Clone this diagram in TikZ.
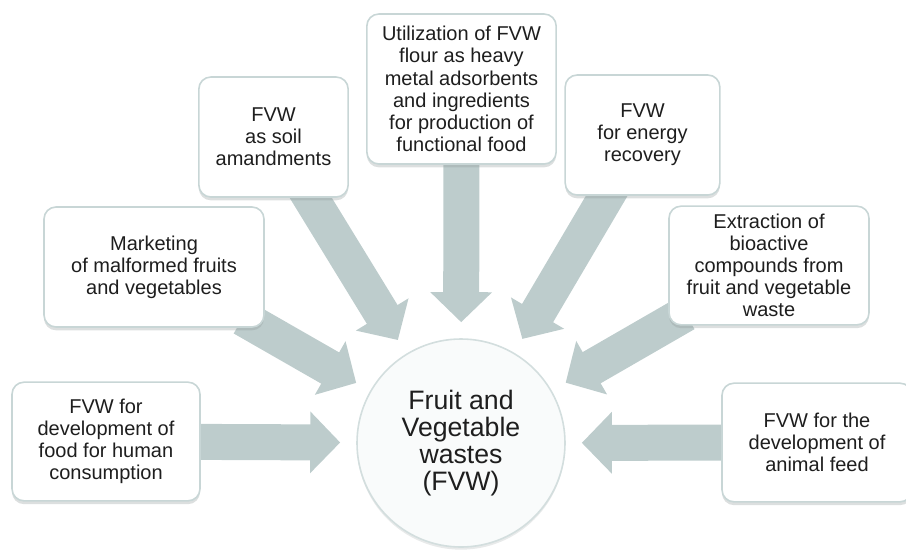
\documentclass[tikz,border=0pt]{standalone}
\usepackage{fontspec}
\setmainfont{Liberation Sans}
\usepackage{tikz}
\usetikzlibrary{arrows.meta}
\usetikzlibrary{shadows}
\usetikzlibrary{backgrounds}

\definecolor{boxedge}{RGB}{200,214,214}
\definecolor{arrowfill}{RGB}{189,204,204}
\definecolor{wastefill}{RGB}{249,251,251}
\definecolor{textgray}{RGB}{30,30,30}

\begin{document}
\begin{tikzpicture}[x=0.75pt,y=-0.75pt,
    usebox/.style={draw=boxedge,line width=1.2pt,fill=white,rounded corners=9pt,align=center,inner sep=0pt,text=textgray,
        font=\fontsize{15}{16.6}\selectfont,drop shadow={shadow xshift=0pt,shadow yshift=-2.5pt,opacity=0.3,fill=boxedge!70!black}},
    wastes/.style={circle,draw=boxedge!80,line width=1.2pt,fill=wastefill,minimum size=156pt,align=center,inner sep=0pt,text=textgray,
        font=\fontsize{20}{20.3}\selectfont,drop shadow={shadow xshift=0pt,shadow yshift=-2pt,opacity=0.2,fill=boxedge!70!black}},
    bigarrow/.style={draw=arrowfill,line width=27pt,-{Triangle[length=22.5pt,width=45pt]},shorten <=-15pt,shorten >=12pt}]

    \useasboundingbox (0,0) rectangle (906,551);

    \node[wastes] (fvw) at (461,443) {Fruit and\\Vegetable\\wastes\\(FVW)};

    \node[usebox,minimum width=141pt,minimum height=89pt] (food) at (106,441.5) {FVW for\\development of\\food for human\\consumption};
    \node[usebox,minimum width=165pt,minimum height=90pt] (market) at (154,267) {Marketing\\of malformed fruits\\and vegetables};
    \node[usebox,minimum width=112pt,minimum height=90pt] (soil) at (273.5,137) {FVW\\as soil\\amandments};
    \node[usebox,minimum width=142pt,minimum height=112.5pt] (flour) at (461.5,89) {Utilization of FVW\\flour as heavy\\metal adsorbents\\and ingredients\\for production of\\functional food};
    \node[usebox,minimum width=116pt,minimum height=90pt] (energy) at (642.5,135) {FVW\\for energy\\recovery};
    \node[usebox,minimum width=150pt,minimum height=89pt] (extract) at (769,265.5) {Extraction of\\bioactive\\compounds from\\fruit and vegetable\\waste};
    \node[usebox,minimum width=142.5pt,minimum height=89pt] (feed) at (817,442.5) {FVW for the\\development of\\animal feed};

    \begin{scope}[on background layer]
        \draw[bigarrow] (food) -- (fvw);
        \draw[bigarrow] (market) -- (fvw);
        \draw[bigarrow] (soil) -- (fvw);
        \draw[bigarrow] (flour) -- (fvw);
        \draw[bigarrow] (energy) -- (fvw);
        \draw[bigarrow] (extract) -- (fvw);
        \draw[bigarrow] (feed) -- (fvw);
    \end{scope}
\end{tikzpicture}
\end{document}
